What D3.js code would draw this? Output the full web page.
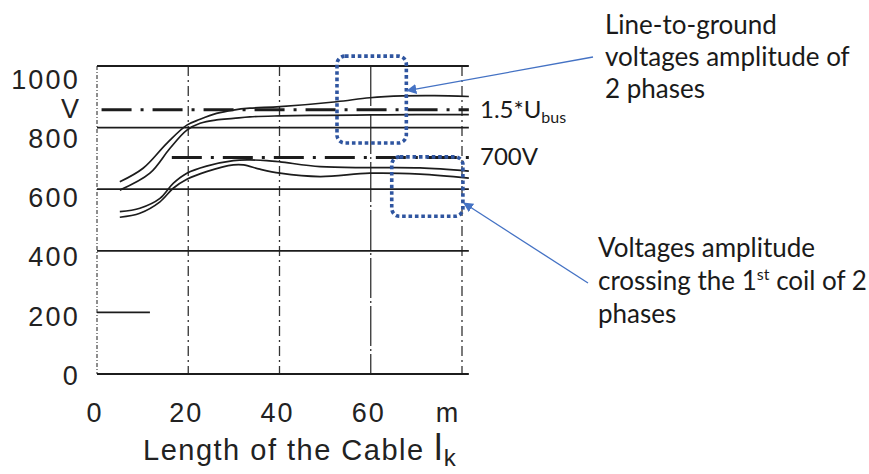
<!DOCTYPE html>
<html><head><meta charset="utf-8">
<script src="https://cdn.jsdelivr.net/npm/d3@7"></script>
<style>html,body{margin:0;padding:0;background:#fff;}svg{display:block;}</style>
</head><body><svg id="c" width="869" height="474"></svg>
<script>
// ---- data ----
const yTicks = [0, 200, 400, 600, 800, 1000];
const yTickLabels = ["0", "200", "400", "600", "800", "1000"];
const xTicks = [0, 20, 40, 60, 80];
const xTickLabels = ["0", "20", "40", "60", "m"];
const gridFull = [0, 400, 600, 800, 1000];   // full-width horizontal lines
const gridShort = [{v: 200, x0: 0, x1: 11.6}];
const xEnd = 81.5;

// line-to-ground voltages (2 phases)
const lgX1 = [5, 10.1, 15.3, 19.7, 22.6, 26.2, 29.9, 33.5, 40.1, 52.5, 59.8, 67, 74, 81.5];
const lgY1 = [624, 668, 749, 808, 827, 846, 857, 863, 868, 884, 897, 903, 904, 901];
const lgX2 = [5, 11.6, 16, 19.7, 22.6, 26.2, 29.9, 33.5, 40.1, 50, 60, 70, 81.5];
const lgY2 = [597, 652, 733, 792, 814, 825, 830, 835, 838, 840, 841, 842, 842];
// voltages across the 1st coil (2 phases)
const cX1 = [5, 9.4, 13.8, 16.7, 19.7, 24, 29.9, 33.5, 37.2, 40.1, 48.9, 59.8, 70.8, 81.5];
const cY1 = [527, 538, 570, 619, 652, 675, 693, 695, 693, 689, 673, 670, 669, 659];
const cX2 = [5, 9.4, 13.8, 16.7, 19.7, 24, 29.9, 32.1, 35.7, 40.1, 48.9, 59.8, 70.8, 81.5];
const cY2 = [509, 522, 559, 603, 632, 657, 679, 679, 665, 652, 641, 652, 649, 636];

// dash-dot reference lines
const refLines = [{v: 858, x0: 1, label: "1.5*U", sub: "bus"}, {v: 703, x0: 16.4, label: "700V", sub: ""}];

// annotation boxes (data units)
const boxes = [{x0: 52.6, x1: 67.8, v0: 750, v1: 1032}, {x0: 64.6, x1: 80.2, v0: 512, v1: 705}];
const annotTop = ["Line-to-ground", "voltages amplitude of", "2 phases"];
const annotBottom = ["Voltages amplitude", "crossing the 1|st| coil of 2", "phases"];

// ---- drawing ----
const svg = d3.select("#c");
const x = d3.scaleLinear().domain([0, 80]).range([97, 462]);
const y = d3.scaleLinear().domain([0, 1000]).range([374, 66]);
const yLab = d3.scaleLinear().domain([0, 1000]).range([375, 79]);
const ink = "#1c1c1c";

// vertical grid lines
svg.append("g").selectAll("line").data(xTicks.slice(1)).join("line")
  .attr("x1", d => x(d)).attr("x2", d => x(d))
  .attr("y1", y(1000)).attr("y2", y(0))
  .attr("stroke", "#333").attr("stroke-width", 1.3)
  .attr("stroke-dasharray", d => d === 60 ? "40 3 2 3" : "10 4 2 4");
svg.append("line").attr("x1", x(0)).attr("x2", x(0)).attr("y1", y(1000)).attr("y2", y(0))
  .attr("stroke", "#444").attr("stroke-width", 1.2).attr("stroke-dasharray", "4 2 1 2");

// horizontal lines
svg.append("g").selectAll("line").data(gridFull).join("line")
  .attr("x1", x(0)).attr("x2", x(xEnd))
  .attr("y1", d => y(d)).attr("y2", d => y(d))
  .attr("stroke", ink).attr("stroke-width", d => d === 1000 ? 2.2 : 1.8);
svg.append("g").selectAll("line").data(gridShort).join("line")
  .attr("x1", d => x(d.x0)).attr("x2", d => x(d.x1))
  .attr("y1", d => y(d.v)).attr("y2", d => y(d.v))
  .attr("stroke", ink).attr("stroke-width", 1.8);

// dash-dot reference lines
svg.append("g").selectAll("line").data(refLines).join("line")
  .attr("x1", d => x(d.x0)).attr("x2", x(xEnd))
  .attr("y1", d => y(d.v)).attr("y2", d => y(d.v))
  .attr("stroke", ink).attr("stroke-width", 3).attr("stroke-dasharray", "30 9 3 9");

// curves
const line = d3.line().x(d => x(d[0])).y(d => y(d[1])).curve(d3.curveCatmullRom.alpha(0.5));
[[lgX1, lgY1], [lgX2, lgY2], [cX1, cY1], [cX2, cY2]].forEach(([xs, ys]) => {
  svg.append("path").datum(xs.map((v, i) => [v, ys[i]]))
    .attr("d", line).attr("fill", "none").attr("stroke", ink).attr("stroke-width", 1.7);
});

// y tick labels
const tickFont = "'Liberation Sans', Arial, sans-serif";
svg.append("g").selectAll("text").data(yTicks).join("text")
  .attr("x", 80).attr("y", d => yLab(d)).attr("dy", "0.36em")
  .attr("text-anchor", "end").attr("font-family", tickFont).attr("font-size", 27)
  .attr("letter-spacing", 2.2).attr("fill", "#222")
  .text((d, i) => yTickLabels[i]);
svg.append("text").attr("x", 70).attr("y", (yLab(1000) + yLab(800)) / 2).attr("dy", "0.36em")
  .attr("text-anchor", "middle").attr("font-family", tickFont).attr("font-size", 27).attr("fill", "#222").text("V");

// x tick labels
svg.append("g").selectAll("text").data(xTicks).join("text")
  .attr("x", (d, i) => x(d) - (xTickLabels[i] === "m" ? 14 : 2)).attr("y", 412).attr("dy", "0.36em")
  .attr("text-anchor", "middle").attr("font-family", tickFont).attr("font-size", 27)
  .attr("letter-spacing", 2).attr("fill", "#222")
  .text((d, i) => xTickLabels[i]);

// x axis title
const title = svg.append("text").attr("x", 143).attr("y", 460)
  .attr("font-family", tickFont).attr("font-size", 29).attr("letter-spacing", 1.5).attr("fill", "#222");
title.append("tspan").text("Length of the Cable ");
title.append("tspan").attr("font-size", 36).attr("font-weight", 300).text("l");
title.append("tspan").attr("font-size", 24).attr("dy", 6).text("k");

// reference line labels
const annFont = "Lato, 'Open Sans', sans-serif";
refLines.forEach(r => {
  const t = svg.append("text").attr("x", 480).attr("y", y(r.v) + 8)
    .attr("font-family", annFont).attr("font-size", 24).attr("fill", "#1a1a1a");
  t.append("tspan").text(r.label);
  if (r.sub) t.append("tspan").attr("font-size", 16).attr("dy", 5).text(r.sub);
});

// annotation boxes
svg.append("g").selectAll("rect").data(boxes).join("rect")
  .attr("x", d => x(d.x0)).attr("y", d => y(d.v1))
  .attr("width", d => x(d.x1) - x(d.x0)).attr("height", d => y(d.v0) - y(d.v1))
  .attr("rx", 8).attr("fill", "none").attr("stroke", "#2f55a0")
  .attr("stroke-width", 3.6).attr("stroke-dasharray", "3.6 2.8");

// arrows
const defs = svg.append("defs");
defs.append("marker").attr("id", "ah").attr("viewBox", "0 0 10 10").attr("refX", 9).attr("refY", 5)
  .attr("markerWidth", 10).attr("markerHeight", 10).attr("markerUnits", "userSpaceOnUse").attr("orient", "auto")
  .append("path").attr("d", "M0,0 L10,5 L0,10 z").attr("fill", "#4472c4");
const arrows = [{x1: 593, y1: 57, tx: 67.8, tv: 920}, {x1: 588, y1: 283, tx: 80.2, tv: 555}];
svg.append("g").selectAll("line").data(arrows).join("line")
  .attr("x1", d => d.x1).attr("y1", d => d.y1)
  .attr("x2", d => x(d.tx) + 1).attr("y2", d => y(d.tv))
  .attr("stroke", "#4472c4").attr("stroke-width", 1.3).attr("marker-end", "url(#ah)");

// annotation texts
function block(lines, x0, y0, lh) {
  lines.forEach((s, i) => {
    const t = svg.append("text").attr("x", x0).attr("y", y0 + i * lh)
      .attr("font-family", annFont).attr("font-size", 26).attr("fill", "#1a1a1a");
    const parts = s.split("|");
    parts.forEach((p, k) => {
      if (k % 2 === 1) t.append("tspan").attr("font-size", 16).attr("dy", -10).text(p);
      else t.append("tspan").attr("dy", k > 0 ? 10 : 0).text(p);
    });
  });
}
block(annotTop, 605, 34, 32);
block(annotBottom, 598, 257, 33);
</script></body></html>
